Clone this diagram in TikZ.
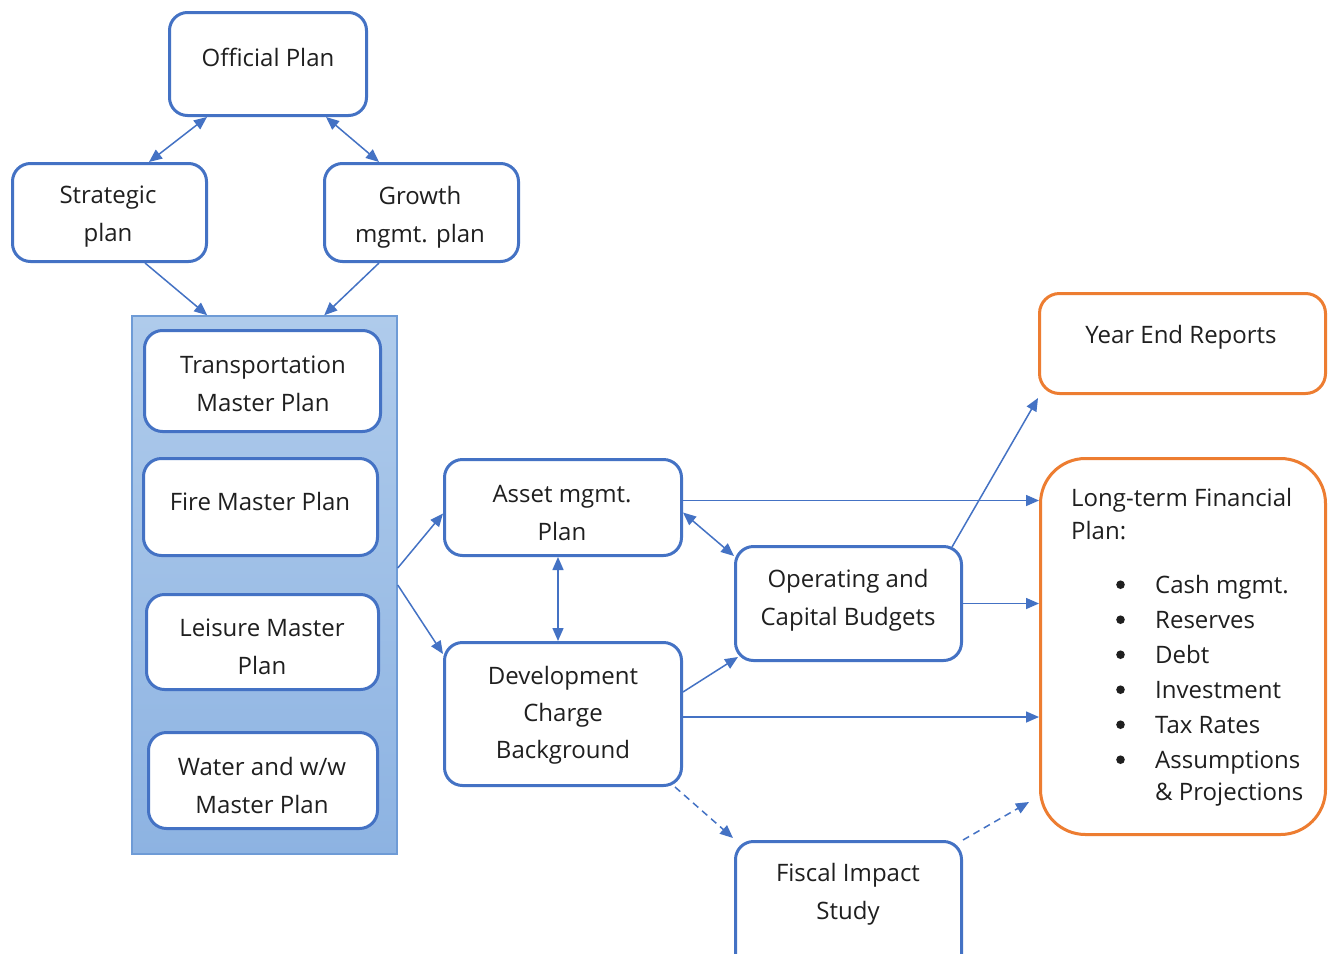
\documentclass[tikz,border=0pt]{standalone}
\usepackage{fontspec}
\setmainfont{Open Sans}
\usetikzlibrary{arrows.meta,calc}
\definecolor{mblue}{HTML}{4472C4}
\definecolor{morange}{HTML}{ED7D31}
\definecolor{ptop}{HTML}{AFCBEB}
\definecolor{pbot}{HTML}{8DB3E2}
\definecolor{pedge}{HTML}{6E9BD6}
\definecolor{txtc}{HTML}{1F1F1F}
\newcommand{\bigdot}{\hspace*{3pt}\raisebox{4pt}{\tikz\fill[txtc] (0,0) circle (4.3pt);}}
\begin{document}
\begin{tikzpicture}[x=1pt,y=-1pt,
 box/.style={draw=mblue,line width=3pt,fill=white,rounded corners=18pt,inner sep=0pt},
 obox/.style={box,draw=morange},
 lbl/.style={inner sep=0pt,align=center,text=txtc,font=\fontsize{24}{38}\selectfont},
 conn/.style={draw=mblue,line width=1.5pt,-{Triangle[length=13pt,width=11pt]}},
 dconn/.style={conn,dash pattern=on 7pt off 5pt},
 bconn/.style={draw=mblue,line width=1.5pt,{Triangle[length=13pt,width=11pt]}-{Triangle[length=13pt,width=11pt]}},
]
\useasboundingbox (0,0) rectangle (1332,953);
\fill[white] (0,0) rectangle (1332,953);

% panel
\node[draw=pedge,line width=1.5pt,top color=ptop,bottom color=pbot,minimum width=265pt,minimum height=538pt,inner sep=0pt] (panel) at (264.5,585) {};

% boxes
\node[box,minimum width=197pt,minimum height=103pt] (op) at (268,64) {};
\node[box,minimum width=194pt,minimum height=98pt] (sp) at (109.5,212.5) {};
\node[box,minimum width=194pt,minimum height=98pt] (gp) at (421.5,212.5) {};
\node[box,minimum width=236pt,minimum height=101pt] (tm) at (262.5,381) {};
\node[box,minimum width=234pt,minimum height=97pt] (fm) at (260.5,507) {};
\node[box,minimum width=232pt,minimum height=95pt] (lm) at (262.5,642) {};
\node[box,minimum width=229pt,minimum height=96pt] (wm) at (263,780.5) {};
\node[box,minimum width=237pt,minimum height=96pt] (am) at (563,507.5) {};
\node[box,minimum width=237pt,minimum height=143pt] (dc) at (563,714) {};
\node[box,minimum width=226pt,minimum height=114pt] (ob) at (848.5,603.5) {};
\node[box,minimum width=226pt,minimum height=132pt] (fi) at (848.5,907.5) {};
\node[obox,rounded corners=20pt,minimum width=286pt,minimum height=100pt] (ye) at (1182.5,343.5) {};
\node[obox,rounded corners=45pt,minimum width=285pt,minimum height=376pt] (lt) at (1183,646.5) {};

% labels
\node[lbl] (top) at (268,57) {Official Plan};
\node[lbl] (tsp) at (108,217) {Strategic\\plan};
\node[lbl] (tgp) at (420,217) {Growth\\mgmt. plan};
\node[lbl] (ttm) at (263,384) {Transportation\\Master Plan};
\node[lbl] (tfm) at (260,501) {Fire Master Plan};
\node[lbl] (tlm) at (262,647) {Leisure Master\\Plan};
\node[lbl] (twm) at (262,785) {Water and w/w\\Master Plan};
\node[lbl] (tam) at (562,513) {Asset mgmt.\\Plan};
\node[lbl,font=\fontsize{24}{37}\selectfont] (tdc) at (563,715) {Development\\Charge\\Background};
\node[lbl] (tob) at (848,600) {Operating and\\Capital Budgets};
\node[lbl] (tfi) at (848,894) {Fiscal Impact\\Study};
\node[lbl] (tye) at (1181,337) {Year End Reports};
\node[inner sep=0pt,text=txtc,anchor=base west,font=\fontsize{24}{35}\selectfont] (tlt) at (1071,506)
 {\begin{tabular}[t]{@{}p{42pt}@{}p{42pt}@{}l@{}}
 \multicolumn{3}{@{}l@{}}{Long-term Financial}\\[-2pt]
 \multicolumn{3}{@{}l@{}}{Plan:}\\[19pt]
 & \bigdot & Cash mgmt.\\
 & \bigdot & Reserves\\
 & \bigdot & Debt\\
 & \bigdot & Investment\\
 & \bigdot & Tax Rates\\
 & \bigdot & Assumptions\\[-3pt]
 & & \& Projections
 \end{tabular}};

% connectors
\draw[bconn] ([xshift=39pt]op.south west) -- ([xshift=138pt]sp.north west);
\draw[bconn] ([xshift=158pt]op.south west) -- ([xshift=56pt]gp.north west);
\draw[conn] ([xshift=134pt]sp.south west) -- ([xshift=76pt]panel.north west);
\draw[conn] ([xshift=56pt]gp.south west) -- ([xshift=193pt]panel.north west);
\draw[conn] ([yshift=17pt]panel.east) -- ([yshift=-6pt]am.west);
\draw[conn] (panel.east) -- ([yshift=-13pt]dc.north west);
\draw[bconn] ([xshift=115pt]am.south west) -- ([xshift=115pt]dc.north west);
\draw[bconn] ([yshift=-5pt]am.east) -- ([yshift=-11pt]ob.north west);
\draw[conn] ([yshift=-51pt]dc.north east) -- ([shift={(4pt,5pt)}]ob.south west);
\draw[conn] ([yshift=7pt]am.east) -- ([yshift=7pt]am.east -| lt.west);
\draw[conn] (ob.east) -- (ob.east -| lt.west);
\draw[conn] ([yshift=-3pt]dc.east) -- ([yshift=-3pt]dc.east -| lt.west);
\draw[conn] ([xshift=-11pt,yshift=-2pt]ob.north east) -- ([yshift=-3pt]ye.south west);
\draw[dconn] ([xshift=-8pt]dc.south east) -- ([shift={(-1pt,2pt)}]fi.north west);
\draw[dconn] (fi.north east) -- ([shift={(-10pt,34pt)}]lt.south west);
\end{tikzpicture}
\end{document}
